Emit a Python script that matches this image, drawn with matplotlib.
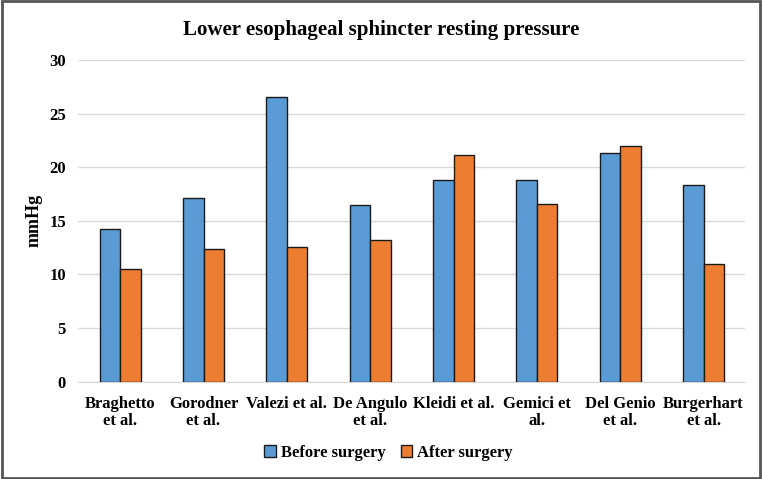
import matplotlib
matplotlib.use('Agg')
import matplotlib.pyplot as plt
import numpy as np
from matplotlib.patches import Rectangle

studies = ['Braghetto\net al.', 'Gorodner\net al.', 'Valezi et al.', 'De Angulo\net al.',
           'Kleidi et al.', 'Gemici et\nal.', 'Del Genio\net al.', 'Burgerhart\net al.']
before = [14.2, 17.1, 26.5, 16.5, 18.8, 18.8, 21.3, 18.3]
after = [10.5, 12.4, 12.6, 13.2, 21.1, 16.6, 22.0, 11.0]
yticks = [0, 5, 10, 15, 20, 25, 30]

plt.rcParams['font.family'] = ['Liberation Serif', 'DejaVu Serif']
plt.rcParams['font.weight'] = 'bold'

fig = plt.figure(figsize=(7.62, 4.79), dpi=100)
ax = fig.add_axes([0.103, 0.203, 0.875, 0.672])

x = np.arange(len(studies))
w = 0.245
ax.bar(x - w / 2, before, w, color='#5B9BD5', edgecolor='#1a1a1a', linewidth=1.0,
       label='Before surgery', zorder=3)
ax.bar(x + w / 2, after, w, color='#ED7D31', edgecolor='#1a1a1a', linewidth=1.0,
       label='After surgery', zorder=3)

ax.set_xlim(-0.5, len(studies) - 0.5)
ax.set_ylim(0, 30)
ax.set_yticks(yticks)
ax.set_yticklabels([str(v) for v in yticks], fontsize=12, fontweight='bold')
ax.set_xticks(x)
ax.set_xticklabels(studies, fontsize=12, fontweight='bold', linespacing=1.1)
ax.tick_params(axis='x', length=0, pad=10)
ax.tick_params(axis='y', length=0, pad=9)
ax.grid(axis='y', color='#d9d9d9', linewidth=1.0, zorder=0)
for s in ['top', 'right', 'left']:
    ax.spines[s].set_visible(False)
ax.spines['bottom'].set_color('#d9d9d9')

ax.set_ylabel('mmHg', fontsize=13, fontweight='bold', labelpad=5)
fig.suptitle('Lower esophageal sphincter resting pressure', fontsize=15,
             fontweight='bold', y=0.958)

leg = fig.legend(loc='center', bbox_to_anchor=(0.51, 0.055), ncol=2, frameon=False,
                 prop={'size': 12, 'weight': 'bold'}, handlelength=0.7,
                 handleheight=0.7, handletextpad=0.3, columnspacing=0.9)

fig.patches.append(Rectangle((0.002, 0.003), 0.996, 0.994, transform=fig.transFigure,
                             fill=False, edgecolor='#555555', linewidth=2.0))

fig.savefig('out.png', dpi=100)
